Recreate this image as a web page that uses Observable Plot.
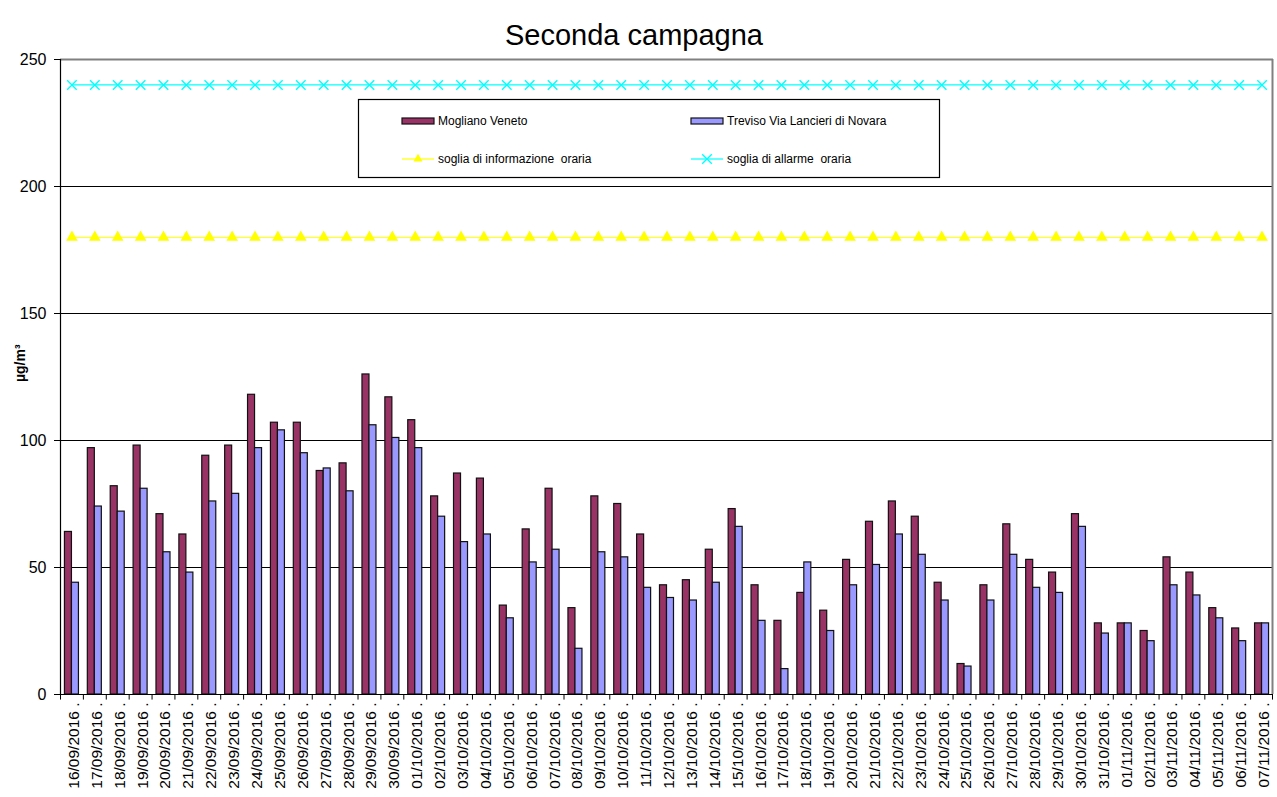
<!DOCTYPE html>
<html>
<head>
<meta charset="utf-8">
<script src="https://cdn.jsdelivr.net/npm/d3@7"></script>
<script src="https://cdn.jsdelivr.net/npm/@observablehq/plot@0.6"></script>
<style>
  html, body { margin: 0; padding: 0; background: #fff; }
  #chart { width: 1277px; height: 797px; }
</style>
</head>
<body>
<div id="chart"></div>
<script>
const title = "Seconda campagna";
const yLabel = "µg/m³";
const seriesNames = ["Mogliano Veneto", "Treviso Via Lancieri di Novara"];
const thresholdNames = ["soglia di informazione  oraria", "soglia di allarme  oraria"];

const dates = [
  "16/09/2016","17/09/2016","18/09/2016","19/09/2016","20/09/2016","21/09/2016","22/09/2016",
  "23/09/2016","24/09/2016","25/09/2016","26/09/2016","27/09/2016","28/09/2016","29/09/2016",
  "30/09/2016","01/10/2016","02/10/2016","03/10/2016","04/10/2016","05/10/2016","06/10/2016",
  "07/10/2016","08/10/2016","09/10/2016","10/10/2016","11/10/2016","12/10/2016","13/10/2016",
  "14/10/2016","15/10/2016","16/10/2016","17/10/2016","18/10/2016","19/10/2016","20/10/2016",
  "21/10/2016","22/10/2016","23/10/2016","24/10/2016","25/10/2016","26/10/2016","27/10/2016",
  "28/10/2016","29/10/2016","30/10/2016","31/10/2016","01/11/2016","02/11/2016","03/11/2016",
  "04/11/2016","05/11/2016","06/11/2016","07/11/2016"
];
const mogliano = [
  64, 97, 82, 98, 71, 63, 94, 98, 118, 107, 107, 88, 91, 126, 117, 108, 78,
  87, 85, 35, 65, 81, 34, 78, 75, 63, 43, 45, 57, 73, 43, 29, 40, 33, 53,
  68, 76, 70, 44, 12, 43, 67, 53, 48, 71, 28, 28, 25, 54, 48, 34, 26, 28
];
const treviso = [
  44, 74, 72, 81, 56, 48, 76, 79, 97, 104, 95, 89, 80, 106, 101, 97, 70,
  60, 63, 30, 52, 57, 18, 56, 54, 42, 38, 37, 44, 66, 29, 10, 52, 25, 43,
  51, 63, 55, 37, 11, 37, 55, 42, 40, 66, 24, 28, 21, 43, 39, 30, 21, 28
];
const sogliaInformazione = 180;
const sogliaAllarme = 240;
const yTicks = [0, 50, 100, 150, 200, 250];

const colors = { m: "#993366", t: "#9999FF", info: "#FFFF00", alarm: "#00FFFF" };

const table = dates.map((d, i) => ({
  date: d, m: mogliano[i], t: treviso[i], info: sogliaInformazione, alarm: sogliaAllarme
}));

const W = 1277, H = 797, ML = 60, MR = 4, MT = 59, MB = 103;
const step = (W - ML - MR) / dates.length;
const half = step / 2;
const barW = 7;
const font = "'Liberation Sans', Arial, Helvetica, sans-serif";

const svg = Plot.plot({
  width: W, height: H,
  marginLeft: ML, marginRight: MR, marginTop: MT, marginBottom: MB,
  style: { fontFamily: font, background: "#fff", color: "#000", overflow: "visible" },
  x: { type: "band", domain: dates, padding: 0, axis: null },
  y: { domain: [0, 250], axis: null },
  marks: [
    Plot.ruleY([50, 100, 150, 200], { stroke: "#000", strokeWidth: 1 }),
    Plot.ruleY([250], { stroke: "#808080", strokeWidth: 2 }),
    Plot.ruleX([dates[dates.length - 1]], { dx: half - 1, y1: 0, y2: 250, stroke: "#808080", strokeWidth: 2 }),
    Plot.barY(table, { x: "date", y: "m", fill: colors.m, stroke: "#111", strokeWidth: 1.2, insetLeft: half - barW, insetRight: half }),
    Plot.barY(table, { x: "date", y: "t", fill: colors.t, stroke: "#111", strokeWidth: 1.2, insetLeft: half, insetRight: half - barW }),
    Plot.lineY(table, { x: "date", y: "info", stroke: colors.info, strokeWidth: 1 }),
    Plot.dot(table, { x: "date", y: "info", symbol: "triangle", fill: colors.info, stroke: "none", r: 4.3 }),
    Plot.lineY(table, { x: "date", y: "alarm", stroke: colors.alarm, strokeWidth: 1.2 }),
    Plot.dot(table, { x: "date", y: "alarm", symbol: "times", stroke: colors.alarm, strokeWidth: 1.4, r: 4.4 }),
    Plot.ruleY([0], { stroke: "#000", strokeWidth: 1.2 }),
    Plot.ruleX([dates[0]], { dx: -half, y1: 0, y2: 250, stroke: "#000", strokeWidth: 1.2 }),
    Plot.ruleX(dates, { x: d => d, dx: -half, y1: 0, y2: -2.2, stroke: "#000" }),
    Plot.ruleX([dates[dates.length - 1]], { dx: half - 1, y1: 0, y2: -2.2, stroke: "#000" }),
    Plot.axisY({ ticks: yTicks, tickSize: 6, tickPadding: 8, fontSize: 16, tickFormat: d => String(d) }),
    Plot.text(dates, { x: d => d, y: 0, text: d => d + " .", rotate: -90, textAnchor: "end", lineAnchor: "middle", dy: 8, dx: 2, fontSize: 15.5 }),
    Plot.text([title], { frameAnchor: "top", dx: -33, dy: -35, fontSize: 29 }),
    Plot.text([yLabel], { frameAnchor: "left", dx: -40, dy: 5, rotate: -90, fontSize: 14, fontWeight: "bold" })
  ]
});

// Legend inside the plot frame
const g = d3.select(svg).append("g")
  .attr("font-family", font).attr("font-size", 12).attr("text-anchor", "start");
g.append("rect").attr("x", 358.5).attr("y", 99.5).attr("width", 581).attr("height", 78)
  .attr("fill", "#fff").attr("stroke", "#000").attr("stroke-width", 1.2);

const legendItems = [
  { kind: "bar", color: colors.m, label: seriesNames[0], x: 402, y: 121 },
  { kind: "bar", color: colors.t, label: seriesNames[1], x: 691, y: 121 },
  { kind: "tri", color: colors.info, label: thresholdNames[0], x: 402, y: 159 },
  { kind: "times", color: colors.alarm, label: thresholdNames[1], x: 691, y: 159 }
];
for (const it of legendItems) {
  if (it.kind === "bar") {
    g.append("rect").attr("x", it.x).attr("y", it.y - 3).attr("width", 32).attr("height", 6)
      .attr("fill", it.color).attr("stroke", "#111").attr("stroke-width", 1.2);
  } else {
    g.append("line").attr("x1", it.x).attr("x2", it.x + 32).attr("y1", it.y).attr("y2", it.y)
      .attr("stroke", it.color).attr("stroke-width", 1.2);
    const cx = it.x + 16;
    if (it.kind === "tri") {
      g.append("path").attr("transform", `translate(${cx},${it.y})`)
        .attr("d", d3.symbol(d3.symbolTriangle2, 58)()).attr("fill", it.color);
    } else {
      g.append("path").attr("transform", `translate(${cx},${it.y})`)
        .attr("d", d3.symbol(d3.symbolTimes, 61)()).attr("fill", "none")
        .attr("stroke", it.color).attr("stroke-width", 1.4);
    }
  }
  g.append("text").attr("x", it.x + 36).attr("y", it.y).attr("dy", "0.35em")
    .attr("text-anchor", "start").style("white-space", "pre").text(it.label);
}

document.getElementById("chart").appendChild(svg);
</script>
</body>
</html>
